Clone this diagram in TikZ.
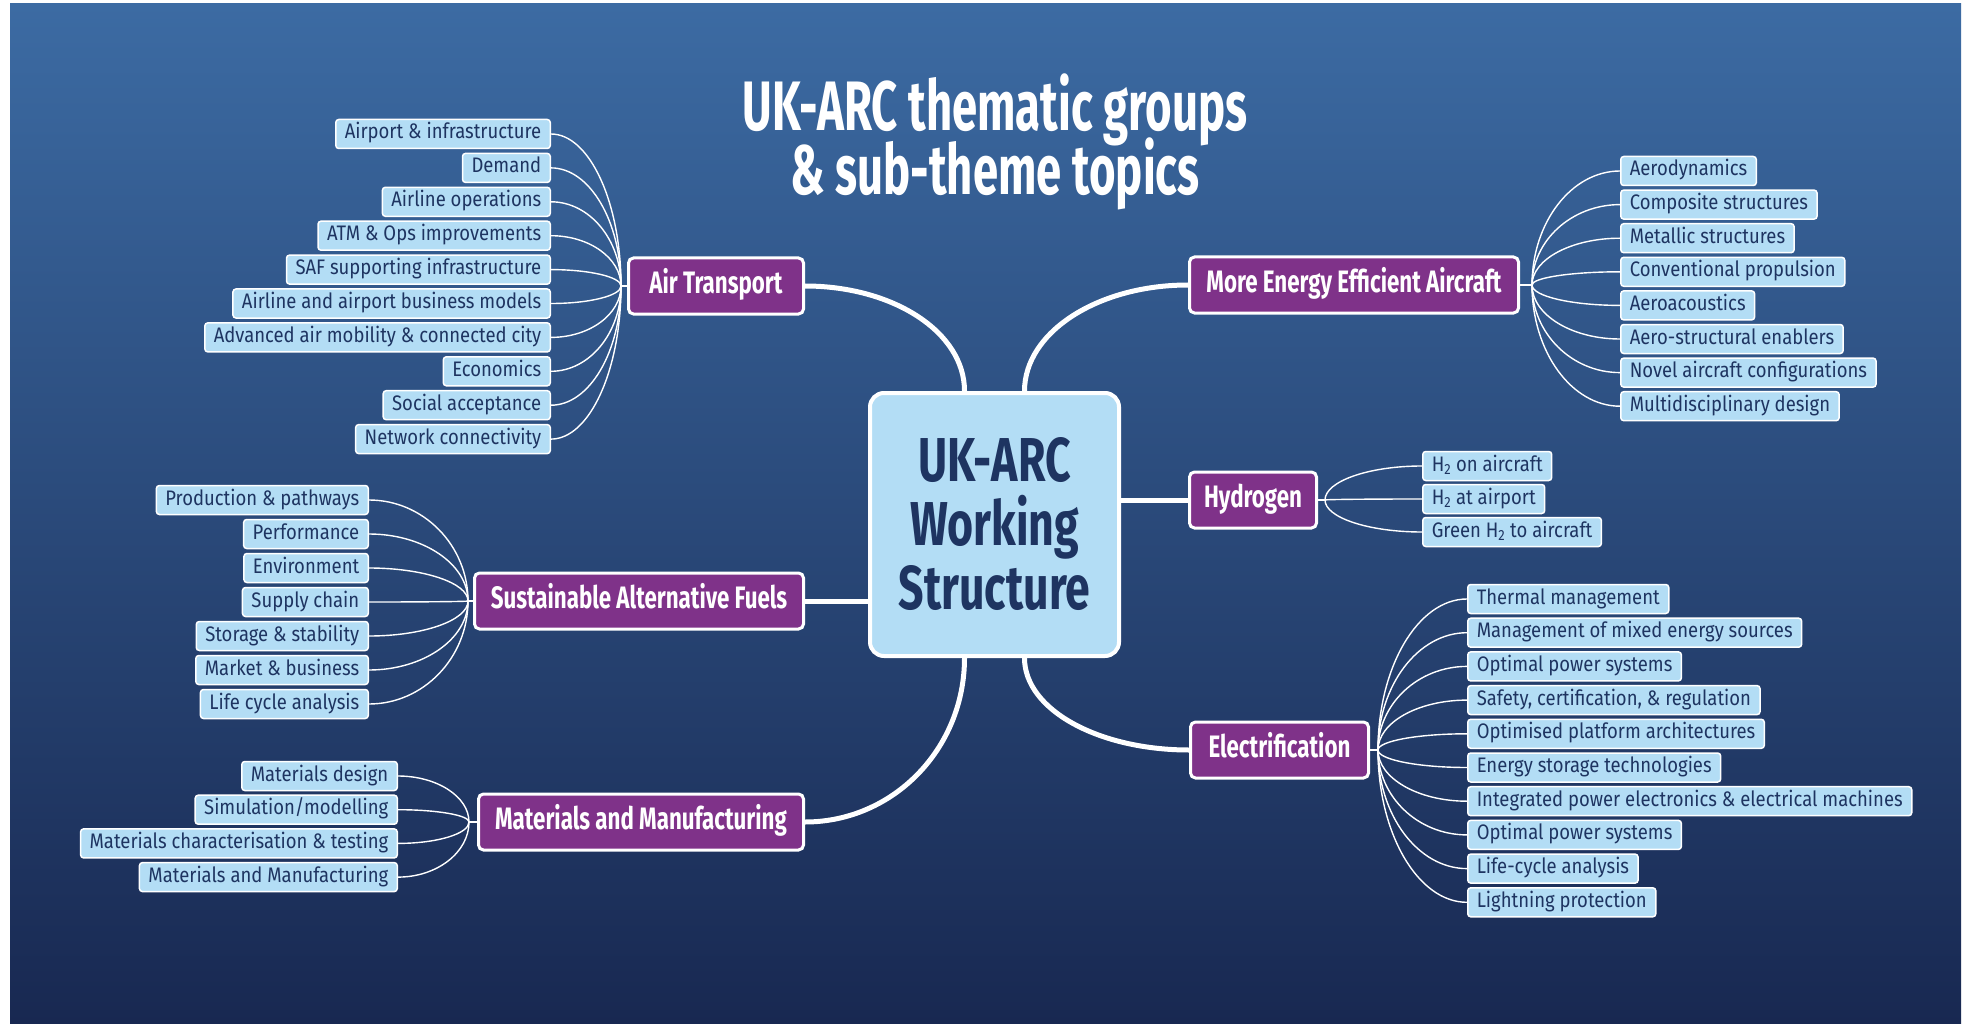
\documentclass[tikz,border=0pt]{standalone}
\usepackage{fontspec}
\setmainfont{Fira Sans}
\newfontfamily\leaffont{Fira Sans}[FakeStretch=0.88]
\newfontfamily\headfont{Fira Sans}[FakeStretch=0.72]
\newfontfamily\titlefont{Fira Sans}[FakeStretch=0.65]
\newcommand\tightlines{\lineskiplimit=-60pt\relax\lineskip=0pt\relax}
\usepackage{tikz}
\usetikzlibrary{calc}

\definecolor{bgtop}{HTML}{3C6BA3}
\definecolor{bgbot}{HTML}{182851}
\definecolor{leafblue}{HTML}{B3DDF5}
\definecolor{navy}{HTML}{1E3461}
\definecolor{plum}{HTML}{7F3289}

\begin{document}
\begin{tikzpicture}[x=1pt,y=-1pt,
  leaf/.style={draw=white, line width=1.5pt, fill=leafblue, rounded corners=3pt, text=navy,
    font=\leaffont\fontsize{21}{21}\selectfont, minimum height=29pt, inner xsep=9pt, inner ysep=0pt,
    text height=14.5pt, text depth=4.5pt},
  theme/.style={draw=white, line width=3pt, fill=plum, rounded corners=5pt, text=white,
    font=\headfont\bfseries\fontsize{31}{31}\selectfont, minimum height=56pt, inner xsep=10pt,
    text height=21pt, text depth=6pt},
  twig/.style={white, line width=1.4pt},
  branch/.style={white, line width=5pt}]

\useasboundingbox (0,0) rectangle (1975,1024);
\fill[white] (0,0) rectangle (1975,1024);
\shade[top color=bgtop, bottom color=bgbot] (10,4) rectangle (1961,1024);

% title
\node[text=white, align=center,
  font=\titlefont\bfseries\fontsize{70}{64}\selectfont\tightlines] (title) at (995,142)
  {UK-ARC thematic groups\\\& sub-theme topics};

% centre
\node[draw=white, line width=4pt, fill=leafblue, rounded corners=14pt, text=navy, align=center,
  minimum width=249pt, minimum height=263pt, font=\headfont\bfseries\fontsize{62}{64}\selectfont]
  (UK) at (994.5,524.5) {UK-ARC\\Working\\Structure};

% themes
\node[theme, anchor=east, minimum width=175pt] (AT) at (805,286) {Air Transport};
\node[theme, anchor=east, minimum width=329pt] (SAF) at (805,601) {Sustainable Alternative Fuels};
\node[theme, anchor=east, minimum width=325pt] (MM) at (805,822) {Materials and Manufacturing};
\node[theme, anchor=west, minimum width=329pt] (MEEA) at (1188,285) {More Energy Efficient Aircraft};
\node[theme, anchor=west, minimum width=127pt] (H2) at (1188,500) {Hydrogen};
\node[theme, anchor=west, minimum width=178pt] (EL) at (1189,750) {Electrification};

\coordinate (topL) at ([xshift=-30pt]UK.north);
\coordinate (topR) at ([xshift=30pt]UK.north);
\coordinate (botL) at ([xshift=-30pt]UK.south);
\coordinate (botR) at ([xshift=30pt]UK.south);

\draw[branch] (AT.east) .. controls +(88,0) and +(0,-59) .. (topL);
\draw[branch] (MEEA.west) .. controls +(-90,0) and +(0,-59) .. (topR);
\draw[branch] (EL.west) .. controls +(-90,0) and +(0,52) .. (botR);
\draw[branch] (MM.east) .. controls +(88,0) and +(0,91) .. (botL);
\draw[branch] (SAF.east) -- (SAF.east -| UK.west);
\draw[branch] (H2.west) -- (H2.west -| UK.east);

% hubs
\coordinate (athub) at ([xshift=-6pt]AT.west);
\coordinate (safhub) at ([xshift=-5pt]SAF.west);
\coordinate (mmhub) at ([xshift=-8pt]MM.west);
\coordinate (meeahub) at ([xshift=12pt]MEEA.east);
\coordinate (hhub) at ([xshift=7pt]H2.east);
\coordinate (elhub) at ([xshift=8pt]EL.east);
\draw[twig] (athub) -- (AT.west);
\draw[twig] (safhub) -- (SAF.west);
\draw[twig] (mmhub) -- (MM.west);
\draw[twig] (meeahub) -- (MEEA.east);
\draw[twig] (hhub) -- (H2.east);
\draw[twig] (elhub) -- (EL.east);

% air transport
\foreach \txt [count=\i from 0] in {Airport \& infrastructure, Demand, Airline operations,
    ATM \& Ops improvements, SAF supporting infrastructure, Airline and airport business models,
    Advanced air mobility \& connected city, Economics, Social acceptance, Network connectivity}{
  \node[leaf, anchor=east] (at\i) at (551,{134+33.9*\i}) {\txt};
  \draw[twig] (at\i.east) .. controls ($(at\i.east)!0.55!(at\i.east -| athub)$)
    and ($(athub)!0.55!(at\i.east -| athub)$) .. (athub);
}

% fuels
\foreach \txt [count=\i from 0] in {Production \& pathways, Performance, Environment, Supply chain,
    Storage \& stability, Market \& business, Life cycle analysis}{
  \node[leaf, anchor=east] (saf\i) at (369,{500+34*\i}) {\txt};
  \draw[twig] (saf\i.east) .. controls ($(saf\i.east)!0.55!(saf\i.east -| safhub)$)
    and ($(safhub)!0.55!(saf\i.east -| safhub)$) .. (safhub);
}

% materials
\foreach \txt [count=\i from 0] in {Materials design, Simulation/modelling,
    Materials characterisation \& testing, Materials and Manufacturing}{
  \node[leaf, anchor=east] (mm\i) at (398,{776+33.7*\i}) {\txt};
  \draw[twig] (mm\i.east) .. controls ($(mm\i.east)!0.55!(mm\i.east -| mmhub)$)
    and ($(mmhub)!0.55!(mm\i.east -| mmhub)$) .. (mmhub);
}

% aircraft
\foreach \txt [count=\i from 0] in {Aerodynamics, Composite structures, Metallic structures,
    Conventional propulsion, Aeroacoustics, Aero-structural enablers,
    Novel aircraft configurations, Multidisciplinary design}{
  \node[leaf, anchor=west] (me\i) at (1620,{171+33.6*\i}) {\txt};
  \draw[twig] (me\i.west) .. controls ($(me\i.west)!0.55!(me\i.west -| meeahub)$)
    and ($(meeahub)!0.55!(me\i.west -| meeahub)$) .. (meeahub);
}

% hydrogen
\foreach \txt [count=\i from 0] in {H\textsubscript{2} on aircraft, H\textsubscript{2} at airport,
    Green H\textsubscript{2} to aircraft}{
  \node[leaf, anchor=west] (h\i) at (1422,{466+33*\i}) {\txt};
  \draw[twig] (h\i.west) .. controls ($(h\i.west)!0.55!(h\i.west -| hhub)$)
    and ($(hhub)!0.55!(h\i.west -| hhub)$) .. (hhub);
}

% electrification
\foreach \txt [count=\i from 0] in {Thermal management, Management of mixed energy sources,
    Optimal power systems, {Safety, certification, \& regulation}, Optimised platform architectures,
    Energy storage technologies, Integrated power electronics \& electrical machines,
    Optimal power systems, Life-cycle analysis, Lightning protection}{
  \node[leaf, anchor=west] (el\i) at (1467,{599+33.7*\i}) {\txt};
  \draw[twig] (el\i.west) .. controls ($(el\i.west)!0.55!(el\i.west -| elhub)$)
    and ($(elhub)!0.55!(el\i.west -| elhub)$) .. (elhub);
}
\end{tikzpicture}
\end{document}
